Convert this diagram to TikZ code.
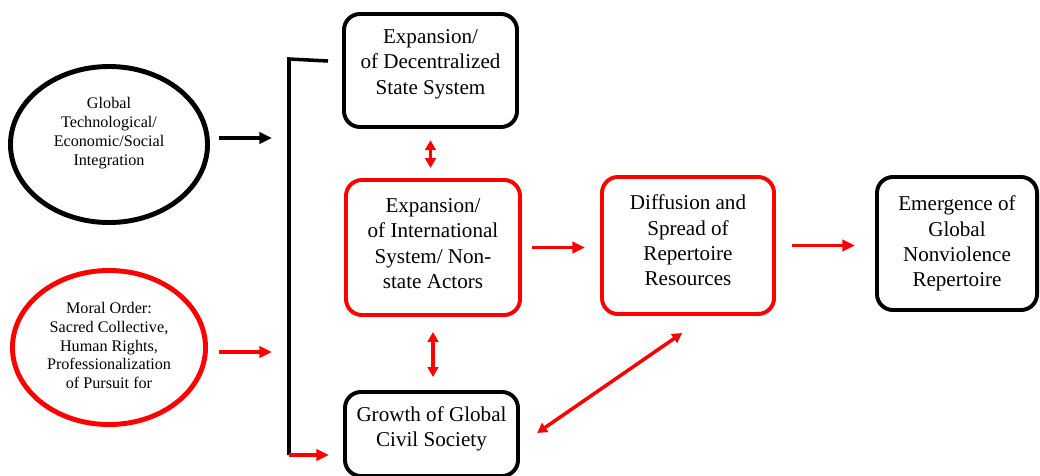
\documentclass[tikz,border=0pt]{standalone}
\usepackage{fontspec}
\setmainfont{Liberation Serif}
\usetikzlibrary{arrows.meta,shapes.geometric}
\tikzset{>/.tip={Triangle[length=9pt,width=8pt]},
  stage/.style={draw, rounded corners=0.4cm, line width=2.8pt, align=center, inner sep=2pt, font=\fontsize{15}{18}\selectfont},
  oval/.style={draw, ellipse, line width=3.5pt, align=center, inner sep=0pt, font=\fontsize{11.5}{13.5}\selectfont},
  link/.style={->, red, line width=2.5pt},
  twoway/.style={<->, red, line width=2.5pt, >={Triangle[length=7pt,width=7.5pt]}}}

\begin{document}
\begin{tikzpicture}[x=0.025cm, y=-0.025cm]
\useasboundingbox (0,0) rectangle (1040,475);
\node[oval, minimum width=4.925cm, minimum height=3.9cm,
  label={[oval, draw=none, yshift=0.29cm]center:Global\\Technological/\\Economic/Social\\Integration}] (gtis) at (109,144.5) {};
\node[oval, red, text=black, text depth=3pt, minimum width=4.825cm, minimum height=3.85cm] (moral) at (109,347.5) {Moral Order:\\Sacred Collective,\\Human Rights,\\Professionalization\\of Pursuit for};
\node[stage, text depth=12.5pt, minimum width=4.325cm, minimum height=2.825cm] (state) at (430.5,70.5) {Expansion/\\of Decentralized\\State System};
\node[stage, red, text=black, text depth=5.7pt, minimum width=4.35cm, minimum height=3.375cm] (intl) at (433,247.5) {Expansion/\\of International\\System/ Non-\\state Actors};
\node[stage, text depth=11pt, minimum width=4.325cm, minimum height=2.1cm] (civil) at (431.5,434) {Growth of Global\\Civil Society};
\node[stage, red, text=black, text depth=7.2pt, minimum width=4.3cm, minimum height=3.425cm] (diff) at (688,245.5) {Diffusion and\\Spread of\\Repertoire\\Resources};
\node[stage, minimum width=4cm, minimum height=3.325cm] (emerg) at (957,243.5) {Emergence of\\Global\\Nonviolence\\Repertoire};
% bracket
\coordinate (btop) at (328,61);
\coordinate (bcorner) at (289,59);
\coordinate (bbot) at (289,455);
\coordinate (tin) at (272,138);
\coordinate (min) at (272,352);
\draw[line width=2.5pt] (btop) -- (bcorner) -- (bbot);
\draw[link, shorten >=0.35cm] (bbot) -- (bbot -| civil.west);
\draw[->, line width=2.5pt, shorten <=0.22cm] (gtis.east |- tin) -- (tin);
\draw[link, shorten <=0.28cm] (moral.east |- min) -- (min);
% flows
\draw[link, shorten <=0.25cm, shorten >=0.375cm] (intl.east) -- (intl.east -| diff.west);
\draw[link, shorten <=0.4cm, shorten >=0.5cm] (diff.east) -- (diff.east -| emerg.west);
\draw[twoway, shorten <=0.28cm, shorten >=0.25cm] (state.south) -- (state.south |- intl.north);
\draw[twoway, shorten <=0.375cm, shorten >=0.325cm] (intl.south) -- (intl.south |- civil.north);
\draw[twoway, shorten <=0.52cm, shorten >=0.75cm] ([yshift=-0.27cm]civil.east) -- ([xshift=0.47cm]diff.south);
\end{tikzpicture}
\end{document}
